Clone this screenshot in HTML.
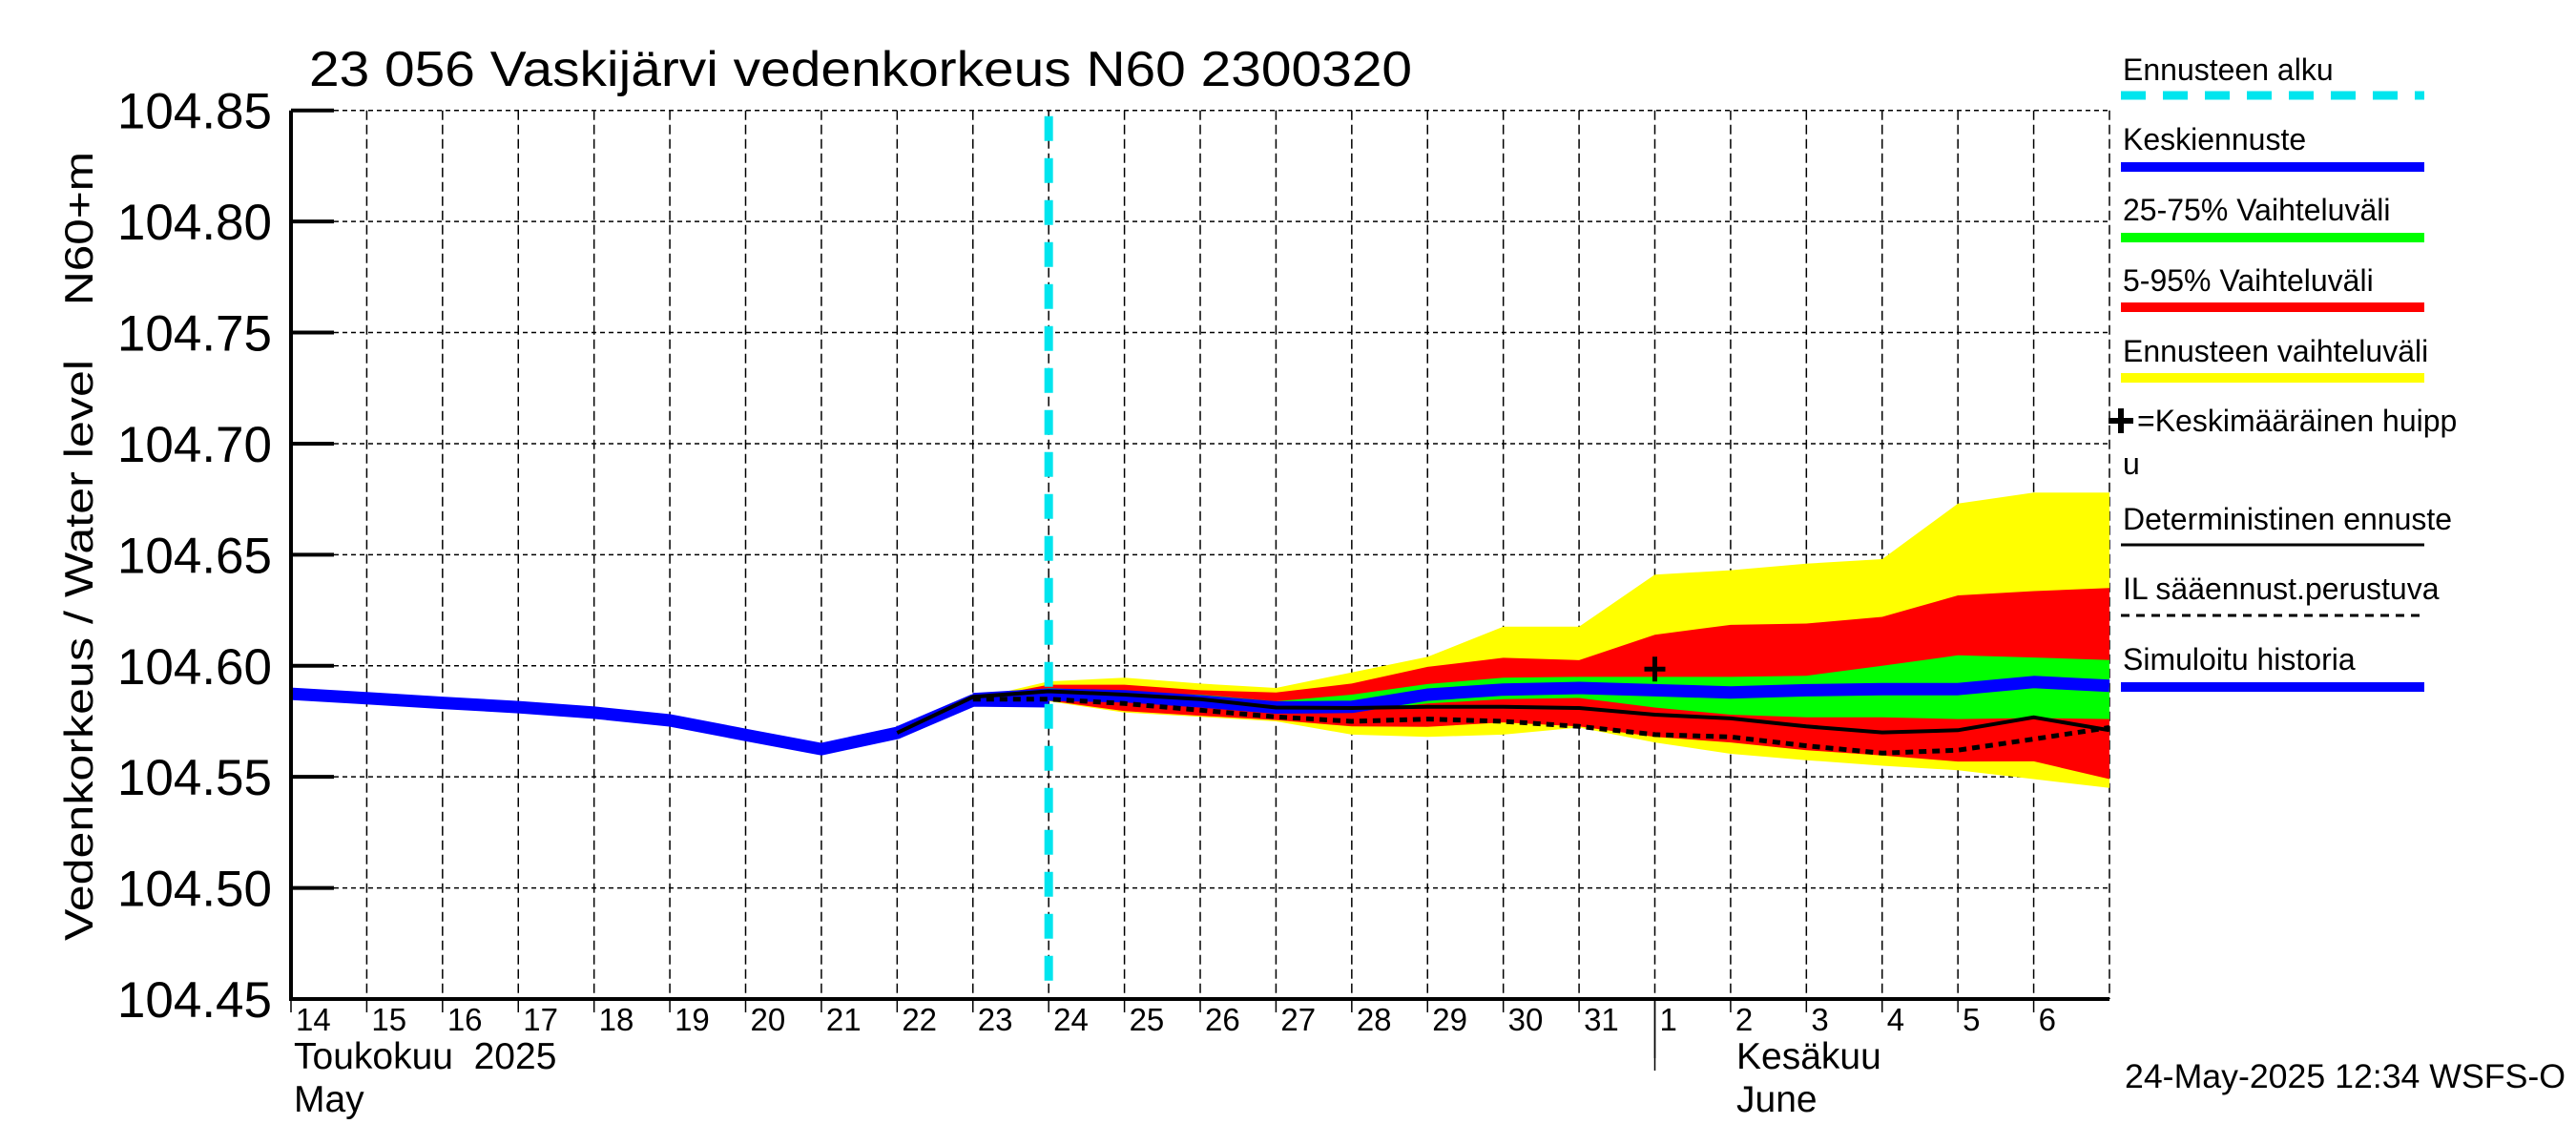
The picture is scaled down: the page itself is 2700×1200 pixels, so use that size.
<!DOCTYPE html>
<html><head><meta charset="utf-8"><style>
html,body{margin:0;padding:0;background:#fff;}
svg{display:block;font-family:"Liberation Sans",sans-serif;}
text{white-space:pre;}
</style></head><body>
<svg id="chart" width="2700" height="1200" viewBox="0 0 2700 1200" xmlns="http://www.w3.org/2000/svg">
<text x="324" y="90" font-size="52" textLength="1156" lengthAdjust="spacingAndGlyphs">23 056 Vaskijärvi vedenkorkeus N60 2300320</text>
<text transform="translate(97,986) rotate(-90)" font-size="42" textLength="609" lengthAdjust="spacingAndGlyphs">Vedenkorkeus / Water level</text>
<text transform="translate(97,320) rotate(-90)" font-size="42" textLength="161" lengthAdjust="spacingAndGlyphs">N60+m</text>
<g id="grid"></g>
<g id="bands"></g>
<g id="lines"></g>
<g id="axes"></g>
<g id="legend"></g>
<text x="2227" y="1140" font-size="35" textLength="462" lengthAdjust="spacingAndGlyphs">24-May-2025 12:34 WSFS-O</text>
</svg>
<script>
const yTicks=[104.45,104.50,104.55,104.60,104.65,104.70,104.75,104.80,104.85];
const dayLabels=["14","15","16","17","18","19","20","21","22","23","24","25","26","27","28","29","30","31","1","2","3","4","5","6"];
const histDays=[0,1,2,3,4,5,6,7,8,9,10];
const histVals=[104.5874,104.5854,104.5833,104.5814,104.5789,104.5754,104.5689,104.5625,104.5698,104.5844,104.5840];
const fcDays=[9,10,11,12,13,14,15,16,17,18,19,20,21,22,23,24];
const yellowTop=[104.585,104.593,104.5946,104.592,104.590,104.597,104.604,104.6176,104.6176,104.641,104.643,104.646,104.648,104.673,104.678,104.678];
const redTop=[104.585,104.5915,104.5915,104.589,104.588,104.592,104.5995,104.6036,104.6025,104.614,104.6184,104.619,104.622,104.6317,104.6336,104.635];
const greenTop=[104.585,104.590,104.588,104.587,104.584,104.587,104.5918,104.5946,104.595,104.595,104.595,104.5955,104.600,104.6047,104.6037,104.6026];
const meanVals=[104.585,104.587,104.5863,104.584,104.5812,104.5815,104.587,104.5893,104.590,104.589,104.588,104.589,104.5895,104.5895,104.5927,104.591];
const greenBot=[104.585,104.5855,104.585,104.583,104.5796,104.5796,104.583,104.585,104.5855,104.5812,104.578,104.5768,104.5768,104.576,104.5765,104.576];
const redBot=[104.585,104.5843,104.5796,104.5775,104.5756,104.5727,104.5725,104.5745,104.5727,104.568,104.5655,104.562,104.5596,104.5569,104.557,104.549];
const yellowBot=[104.585,104.584,104.579,104.577,104.575,104.569,104.568,104.569,104.5722,104.5655,104.5604,104.5575,104.555,104.553,104.549,104.545];
const detDays=[8,9,10,11,12,13,14,15,16,17,18,19,20,21,22,23,24];
const detVals=[104.5698,104.586,104.5885,104.587,104.585,104.5812,104.581,104.5815,104.5815,104.581,104.578,104.5763,104.5727,104.570,104.571,104.5768,104.571];
const ilVals=[104.585,104.585,104.583,104.580,104.577,104.575,104.576,104.575,104.5727,104.569,104.568,104.564,104.5607,104.562,104.567,104.5722];
const peakDay=[18];
const peakVal=[104.5985];
const forecastStart=[10];

const L=305,R=2211,T=115.7,B=1047,D0=0,D1=24;
const X=d=>L+(d-D0)/(D1-D0)*(R-L);
const Y=v=>T+(104.85-v)/0.40*(B-T);
const NS="http://www.w3.org/2000/svg";
function mk(parent,tag,attrs){const e=document.createElementNS(NS,tag);for(const k in attrs)e.setAttribute(k,attrs[k]);document.getElementById(parent).appendChild(e);return e;}
function pts(ds,vs){return ds.map((d,i)=>X(d).toFixed(1)+","+Y(vs[i]).toFixed(1)).join(" ");}

yTicks.forEach(v=>{
  if(v>104.45){const g=mk("grid","line",{x1:L,x2:R,y1:Y(v),y2:Y(v),stroke:"#000","stroke-width":1.5,"stroke-dasharray":"5,4"});
  
  }
});
for(let d=1;d<=24;d++){
  const g=mk("grid","line",{x1:X(d),x2:X(d),y1:T,y2:B,stroke:"#000","stroke-width":1.5,"stroke-dasharray":"10,5"});
  
  
}
function band(top,bot,col,name){
  const p=mk("bands","polygon",{points:pts(fcDays,top)+" "+pts(fcDays.slice().reverse(),bot.slice().reverse()),fill:col});
  
  
}
band(yellowTop,yellowBot,"#ffff00","band-full-range");
band(redTop,redBot,"#ff0000","band-5-95");
band(greenTop,greenBot,"#00ff00","band-25-75");
let e;
e=mk("lines","polyline",{points:pts(histDays,histVals),fill:"none",stroke:"#0000ff","stroke-width":13,"stroke-linejoin":"round"});


e=mk("lines","polyline",{points:pts(fcDays,meanVals),fill:"none",stroke:"#0000ff","stroke-width":13,"stroke-linejoin":"round"});


e=mk("lines","polyline",{points:pts(detDays,detVals),fill:"none",stroke:"#000","stroke-width":4});


e=mk("lines","polyline",{points:pts(fcDays,ilVals),fill:"none",stroke:"#000","stroke-width":5,"stroke-dasharray":"8,6"});


e=mk("lines","line",{x1:X(forecastStart[0]),x2:X(forecastStart[0]),y1:T+6,y2:B,stroke:"#00e5ee","stroke-width":9,"stroke-dasharray":"26,18"});


const px=X(peakDay[0]),py=Y(peakVal[0]);
e=mk("lines","path",{d:`M${px-11},${py}H${px+11}M${px},${py-13}V${py+13}`,stroke:"#000","stroke-width":5,fill:"none"});


e=mk("axes","path",{d:`M${L},${T}V${B}H${R}`,stroke:"#000","stroke-width":4,fill:"none"});


yTicks.forEach(v=>{
  const t=mk("axes","line",{x1:L,x2:L+45,y1:Y(v),y2:Y(v),stroke:"#000","stroke-width":4});
  
  
  const l=mk("axes","text",{x:285,y:Y(v)+19,"font-size":53,"text-anchor":"end"});
  l.textContent=v.toFixed(2);
  
  
});
dayLabels.forEach((s,i)=>{
  const t=mk("axes","line",{x1:X(i),x2:X(i),y1:B,y2:B+(i===18?62:14),stroke:"#000","stroke-width":1.5});
  
  
  const l=mk("axes","text",{x:X(i)+5,y:1080,"font-size":33});
  l.textContent=s;
  
  
});
e=mk("axes","line",{x1:X(18),x2:X(18),y1:B,y2:1122,stroke:"#000","stroke-width":1.5});


[["Toukokuu  2025",308,1120],["May",308,1165],["Kesäkuu",1820,1120],["June",1820,1165]].forEach(m=>{
  const l=mk("axes","text",{x:m[1],y:m[2],"font-size":39});
  l.textContent=m[0];
  
  
});
const legItems=[["Ennusteen alku",84,100,"#00e5ee",9,"26,18"],["Keskiennuste",157,175,"#0000ff",10,""],["25-75% Vaihteluväli",231,249,"#00ff00",10,""],["5-95% Vaihteluväli",305,322,"#ff0000",10,""],["Ennusteen vaihteluväli",379,396,"#ffff00",10,""],["Deterministinen ennuste",555,571,"#000",3,""],["IL sääennust.perustuva",628,645,"#000",3,"9,7"],["Simuloitu historia",702,720,"#0000ff",10,""]];
legItems.forEach(it=>{
  const l=mk("legend","text",{x:2225,y:it[1],"font-size":32});
  l.textContent=it[0];
  
  
  const a={x1:2223,x2:2541,y1:it[2],y2:it[2],stroke:it[3],"stroke-width":it[4]};
  if(it[5])a["stroke-dasharray"]=it[5];
  const s=mk("legend","line",a);
  
  
});
e=mk("legend","path",{d:"M2210,441H2236M2223,428V454",stroke:"#000","stroke-width":6,fill:"none"});


e=mk("legend","text",{x:2240,y:452,"font-size":32});
e.textContent="=Keskimääräinen huipp";


e=mk("legend","text",{x:2225,y:497,"font-size":32});
e.textContent="u";


</script>
</body></html>
